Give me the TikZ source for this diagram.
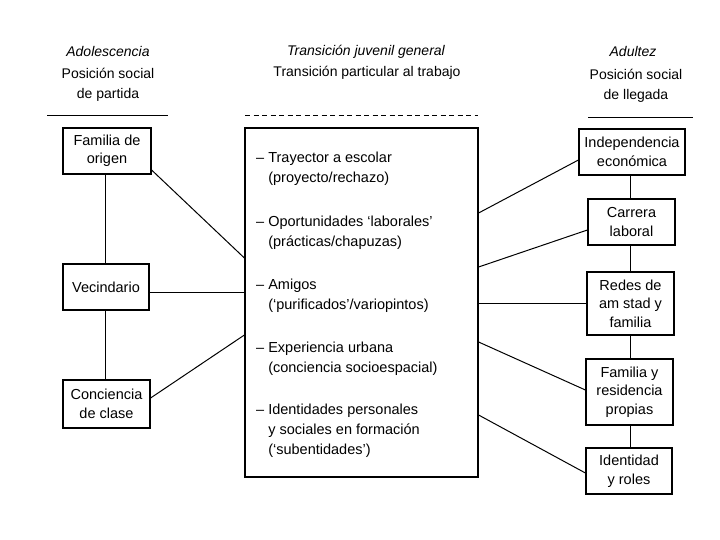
\documentclass[tikz,border=0pt]{standalone}
\usepackage{fontspec}
\setmainfont{Liberation Sans}
\begin{document}
\begin{tikzpicture}[x=1pt,y=-1pt]
\tikzset{
  box/.style={draw, line width=1.2pt, align=center, inner sep=0pt,
    font=\fontsize{14.5}{18.5}\selectfont},
  head/.style={align=center, inner sep=0pt, font=\fontsize{14}{20}\selectfont},
  headit/.style={head, font=\fontsize{14}{20}\selectfont\itshape},
  item/.style={anchor=north west, align=left, inner sep=0pt,
    font=\fontsize{14.5}{20}\selectfont},
  link/.style={line width=1pt}
}
\useasboundingbox (0,0) rectangle (720,540);

% Headers
\node[headit] (adol) at (108,52) {Adolescencia};
\node[head] (partida) at (108,85) {Posición social\\de partida};
\node[headit] (trgen) at (366,52) {Transición juvenil general};
\node[head] (trpart) at (367,73) {Transición particular al trabajo};
\node[headit] (adult) at (633,52) {Adultez};
\node[head] (llegada) at (636,86) {Posición social\\de llegada};

% Header rules
\coordinate (rl1) at (47,116);   \coordinate (rl2) at (168,116);
\coordinate (rr1) at (588,118);  \coordinate (rr2) at (693,118);
\coordinate (rc1) at (245,116);  \coordinate (rc2) at (478,116);
\draw[line width=1pt] (rl1) -- (rl2);
\draw[line width=1pt] (rr1) -- (rr2);
\draw[line width=1pt, dash pattern={on 5pt off 3.5pt}] (rc1) -- (rc2);

% Left column
\node[box, minimum width=88pt, minimum height=46pt] (fam) at (107,151) {Familia de\\origen};
\node[box, minimum width=86pt, minimum height=46pt] (vec) at (106,287) {Vecindario};
\node[box, minimum width=87pt, minimum height=48pt] (con) at (106.5,404) {Conciencia\\de clase};

% Centre box
\node[draw, line width=1.2pt, minimum width=233pt, minimum height=349pt, inner sep=0pt] (cen) at (361.5,302.5) {};
\node[item] (it1) at (256,152) {– Trayector a escolar\\\phantom{– }(proyecto/rechazo)};
\node[item] (it2) at (256,216) {– Oportunidades ‘laborales’\\\phantom{– }(prácticas/chapuzas)};
\node[item] (it3) at (256,279) {– Amigos\\\phantom{– }(‘purificados’/variopintos)};
\node[item] (it4) at (256,342) {– Experiencia urbana\\\phantom{– }(conciencia socioespacial)};
\node[item] (it5) at (256,404) {– Identidades personales\\\phantom{– }y sociales en formación\\\phantom{– }(‘subentidades’)};

% Right column
\node[box, minimum width=106pt, minimum height=46pt] (ind) at (632,152) {Independencia\\económica};
\node[box, minimum width=87pt, minimum height=46pt] (car) at (631.5,222) {Carrera\\laboral};
\node[box, minimum width=87pt, minimum height=63pt] (red) at (630.5,303.5) {Redes de\\am stad y\\familia};
\node[box, minimum width=87pt, minimum height=66pt] (fyr) at (629.5,392) {Familia y\\residencia\\propias};
\node[box, minimum width=86pt, minimum height=46pt] (idr) at (629,471) {Identidad\\y roles};

% Vertical links
\draw[link] (fam.south -| 105,0) -- (vec.north -| 105,0);
\draw[link] (vec.south -| 105,0) -- (con.north -| 105,0);
\draw[link] (ind.south -| 630,0) -- (car.north -| 630,0);
\draw[link] (car.south -| 630,0) -- (red.north -| 630,0);
\draw[link] (red.south -| 630,0) -- (fyr.north -| 630,0);
\draw[link] (fyr.south -| 630,0) -- (idr.north -| 630,0);

% Links into the centre box
\draw[link] ([yshift=-19pt]fam.east) -- ([yshift=44.5pt]cen.west);
\draw[link] ([yshift=-5pt]vec.east) -- ([yshift=10.5pt]cen.west);
\draw[link] ([yshift=6pt]con.east) -- ([yshift=-32.5pt]cen.west);

% Links out of the centre box
\draw[link] ([yshift=89.5pt]cen.east) -- ([yshift=-8pt]ind.west);
\draw[link] ([yshift=35.5pt]cen.east) -- ([yshift=-8pt]car.west);
\draw[link] (cen.east |- red.west) -- (red.west);
\draw[link] ([yshift=-39.5pt]cen.east) -- ([yshift=2pt]fyr.west);
\draw[link] ([yshift=-112.5pt]cen.east) -- ([yshift=-2pt]idr.west);

\end{tikzpicture}
\end{document}
